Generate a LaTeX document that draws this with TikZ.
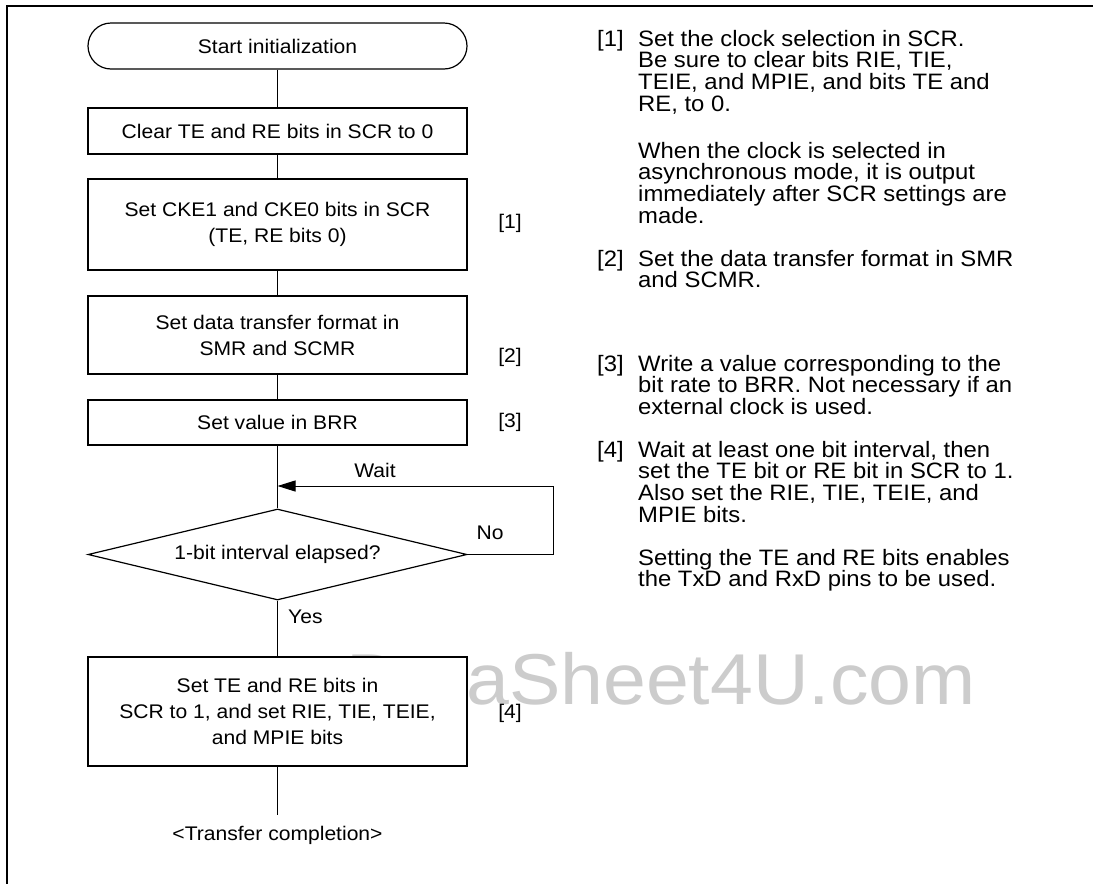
\documentclass[tikz,border=0pt]{standalone}
\usepackage{fontspec}
\setmainfont{Liberation Sans}[FakeStretch=1.07]
\usetikzlibrary{shapes.geometric,arrows.meta}
\begin{document}
\begin{tikzpicture}[x=1pt,y=-1pt,
  boxfont/.style={font=\fontsize{19.7}{26}\selectfont},
  procbox/.style={draw,line width=1.2pt,fill=white,minimum width=379pt,inner sep=0pt,align=center,boxfont},
  termbox/.style={procbox,rounded corners=23pt,minimum height=46pt},
  decbox/.style={draw,line width=1.2pt,fill=white,shape=diamond,minimum width=379pt,minimum height=91pt,aspect=4.16,inner sep=0pt,boxfont},
  conn/.style={line width=1pt},
  lbl/.style={boxfont,inner sep=0pt},
  rtext/.style={font=\fontsize{22.3}{21.7}\selectfont,anchor=base west,inner sep=0pt},
  wmark/.style={font=\fontsize{72}{74}\selectfont,text=black!20,anchor=base east,inner sep=0pt}
]
\useasboundingbox (0,0) rectangle (1093,884);
\fill[white] (0,0) rectangle (1093,884);
% frame
\draw[line width=1.3pt] (7,884) -- (7,6) -- (1093,6);
% watermark
\node[wmark] (wm) at (976,704) {DataSheet4U.com};
% flowchart
\node[termbox] (start) at (277.5,46) {Start initialization};
\node[procbox,minimum height=46pt] (clear) at (277.5,131) {Clear TE and RE bits in SCR to 0};
\node[procbox,minimum height=91pt] (cke) at (277.5,224.5) {Set CKE1 and CKE0 bits in SCR\\(TE, RE bits 0)};
\node[procbox,minimum height=78pt] (fmt) at (277.5,335) {Set data transfer format in\\SMR and SCMR};
\node[procbox,minimum height=45pt] (brr) at (277.5,422.5) {Set value in BRR};
\node[decbox] (dec) at (277.5,554.5) {1-bit interval elapsed?};
\node[procbox,minimum height=109pt] (set) at (277.5,711.5) {Set TE and RE bits in\\SCR to 1, and set RIE, TIE, TEIE,\\and MPIE bits};
\coordinate (loopin) at (277.5,486);
\coordinate (loopr) at (553,554.5);
\coordinate (loopt) at (553,486);
\coordinate (endpt) at (277.5,815);
\draw[conn] (start) -- (clear);
\draw[conn] (clear) -- (cke);
\draw[conn] (cke) -- (fmt);
\draw[conn] (fmt) -- (brr);
\draw[conn] (brr) -- (dec);
\draw[conn] (dec) -- (set);
\draw[conn] (set) -- (endpt);
\draw[conn,-{Triangle[length=18pt,width=11pt]}] (dec.east) -- (loopr) -- (loopt) -- (loopin);
\node[lbl] (wait) at (375,470) {Wait};
\node[lbl] (no) at (490,533) {No};
\node[lbl,anchor=west] (yes) at (288,617) {Yes};
\node[lbl] (endtxt) at (277.5,835) {<Transfer completion>};
\node[lbl] (n1) at (510,223) {[1]};
\node[lbl] (n2) at (510,357) {[2]};
\node[lbl] (n3) at (510,422.5) {[3]};
\node[lbl] (n4) at (510,713) {[4]};
% right-hand notes
\node[rtext] (r1n) at (597,46) {[1]};
\node[rtext] (r1a) at (638,46) {Set the clock selection in SCR.};
\node[rtext] (r1b) at (638,67.7) {Be sure to clear bits RIE, TIE,};
\node[rtext] (r1c) at (638,89.4) {TEIE, and MPIE, and bits TE and};
\node[rtext] (r1d) at (638,111.1) {RE, to 0.};
\node[rtext] (r1e) at (638,158) {When the clock is selected in};
\node[rtext] (r1f) at (638,179.7) {asynchronous mode, it is output};
\node[rtext] (r1g) at (638,201.4) {immediately after SCR settings are};
\node[rtext] (r1h) at (638,223.1) {made.};
\node[rtext] (r2n) at (597,266) {[2]};
\node[rtext] (r2a) at (638,266) {Set the data transfer format in SMR};
\node[rtext] (r2b) at (638,287.7) {and SCMR.};
\node[rtext] (r3n) at (597,371) {[3]};
\node[rtext] (r3a) at (638,371) {Write a value corresponding to the};
\node[rtext] (r3b) at (638,392.7) {bit rate to BRR. Not necessary if an};
\node[rtext] (r3c) at (638,414.4) {external clock is used.};
\node[rtext] (r4n) at (597,457) {[4]};
\node[rtext] (r4a) at (638,457) {Wait at least one bit interval, then};
\node[rtext] (r4b) at (638,478.7) {set the TE bit or RE bit in SCR to 1.};
\node[rtext] (r4c) at (638,500.4) {Also set the RIE, TIE, TEIE, and};
\node[rtext] (r4d) at (638,522.1) {MPIE bits.};
\node[rtext] (r4e) at (638,565) {Setting the TE and RE bits enables};
\node[rtext] (r4f) at (638,586.7) {the TxD and RxD pins to be used.};
\end{tikzpicture}
\end{document}
